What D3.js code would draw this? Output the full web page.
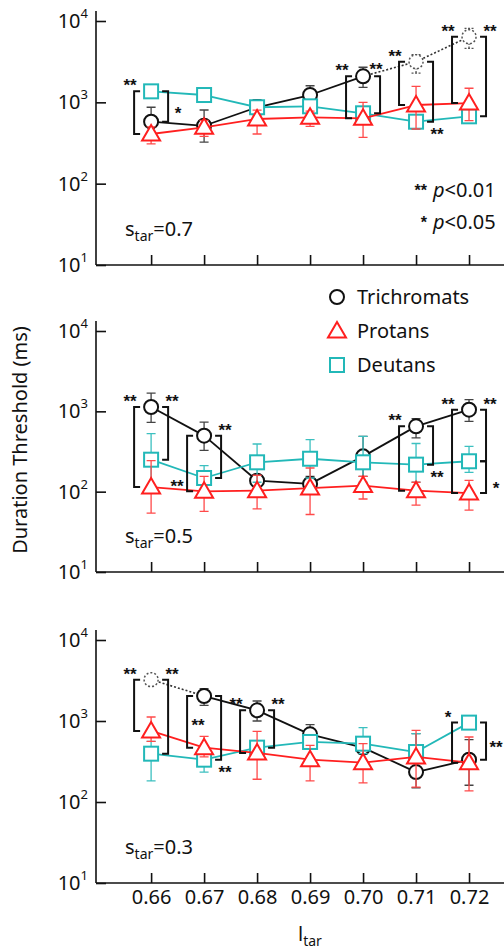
<!DOCTYPE html>
<html>
<head>
<meta charset="utf-8">
<script src="https://cdn.jsdelivr.net/npm/d3@7"></script>
<style>
  body { margin: 0; background: #fff; }
  svg text { font-family: "Noto Sans", "Liberation Sans", Arial, sans-serif; fill: #111; }
</style>
</head>
<body>
<div id="chart"></div>
<script>
// x levels (l_tar) and the three s_tar panels
const levels = [0.66, 0.67, 0.68, 0.69, 0.70, 0.71, 0.72];
const panelSizes = ["0.7", "0.5", "0.3"];
const yTickValues = [10, 100, 1000, 10000];

// duration thresholds (ms), one row per panel: s_tar = 0.7, 0.5, 0.3
const trichMean = [
  [578, 515, 870, 1230, 2090, 3160, 6410],
  [1132, 498, 137, 125, 275, 650, 1048],
  [3240, 2035, 1354, 684, 470, 234, 333]
];
const trichLow = [
  [400, 325, 700, 950, 1530, 2290, 4600],
  [730, 327, 120, 105, 155, 466, 751],
  [3240, 1560, 1000, 520, 390, 150, 161]
];
const trichHigh = [
  [870, 805, 1080, 1600, 2700, 3850, 8130],
  [1690, 736, 160, 155, 489, 810, 1397],
  [3240, 2510, 1766, 901, 560, 700, 590]
];
// points that are drawn dotted (extrapolated), by index
const trichDotted = [[5, 6], [], [0]];

const protMean = [
  [408, 493, 624, 654, 636, 927, 980],
  [114, 101, 103, 111, 119, 103, 96],
  [753, 469, 403, 333, 306, 360, 306]
];
const protLow = [
  [308, 382, 408, 507, 371, 470, 595],
  [54, 57, 61, 52, 81, 68, 59],
  [560, 360, 191, 182, 172, 153, 137]
];
const protHigh = [
  [500, 600, 800, 780, 1000, 1573, 1490],
  [243, 155, 160, 197, 155, 131, 138],
  [1120, 647, 745, 500, 525, 767, 635]
];

const deutMean = [
  [1365, 1230, 870, 893, 733, 578, 673],
  [250, 148, 232, 257, 232, 217, 239],
  [395, 333, 469, 551, 525, 414, 955]
];
const deutLow = [
  [1250, 1120, 800, 820, 640, 470, 560],
  [120, 101, 131, 148, 131, 131, 174],
  [182, 234, 400, 480, 395, 300, 900]
];
const deutHigh = [
  [1480, 1350, 950, 970, 830, 700, 800],
  [527, 211, 392, 444, 489, 398, 367],
  [560, 450, 560, 640, 828, 698, 1000]
];

// significance brackets: panel, level, side, from series, to series, label, label spot
const brackets = [
  [0, 0.66, "L", "deut", "prot", "**", "top"],
  [0, 0.66, "R", "deut", "trich", "*", "mid"],
  [0, 0.70, "L", "trich", "prot", "**", "top"],
  [0, 0.70, "R", "trich", "deut", "**", "topIn"],
  [0, 0.71, "L", "trich", "prot", "**", "top"],
  [0, 0.71, "R", "trich", "deut", "**", "bottom"],
  [0, 0.72, "L", "trich", "prot", "**", "top"],
  [0, 0.72, "R", "trich", "deut", "**", "top"],
  [1, 0.66, "L", "trich", "prot", "**", "top"],
  [1, 0.66, "R", "trich", "deut", "**", "top"],
  [1, 0.67, "L", "trich", "prot", "**", "low"],
  [1, 0.67, "R", "trich", "deut", "**", "top"],
  [1, 0.71, "L", "trich", "prot", "**", "top"],
  [1, 0.71, "R", "trich", "deut", "**", "bottom"],
  [1, 0.72, "L", "trich", "prot", "**", "top"],
  [1, 0.72, "R", "trich", "deut", "**", "top"],
  [1, 0.72, "R", "deut", "prot", "*", "low"],
  [2, 0.66, "L", "trich", "prot", "**", "top"],
  [2, 0.66, "R", "trich", "deut", "**", "top"],
  [2, 0.67, "L", "trich", "prot", "**", "inner"],
  [2, 0.67, "R", "trich", "deut", "**", "bottom"],
  [2, 0.68, "L", "trich", "prot", "**", "top"],
  [2, 0.68, "R", "trich", "deut", "**", "top"],
  [2, 0.72, "L", "deut", "prot", "*", "top"],
  [2, 0.72, "R", "deut", "trich", "**", "mid"]
];

const legendNames = ["Trichromats", "Protans", "Deutans"];
const pNotes = [["**", "0.01"], ["*", "0.05"]];

/*---------------- setup ----------------*/
const w = 504;
const h = 950;
const svg = d3.select("#chart").append("svg").attr("width", w).attr("height", h);

const x = d3.scaleLinear().domain([0.6496, 0.7266]).range([96, 504]);
const panelTop = [21, 331, 640];
const panelBottom = [265, 572, 883];
const yScales = panelTop.map((t, i) => d3.scaleLog().domain([10, 10000]).range([panelBottom[i], t]));

const series = {
  trich: { mean: trichMean, low: trichLow, high: trichHigh, color: "#111", err: "#444", shape: "circle", dotted: trichDotted },
  deut: { mean: deutMean, low: deutLow, high: deutHigh, color: "#22b8b8", err: "#3cc0c0", shape: "square", dotted: [[], [], []] },
  prot: { mean: protMean, low: protLow, high: protHigh, color: "#ff1f1f", err: "#ff4a4a", shape: "triangle", dotted: [[], [], []] }
};
const drawOrder = ["trich", "deut", "prot"];

function marker(g, shape, cx, cy, color, dotted) {
  let m;
  if (shape === "circle") {
    m = g.append("circle").attr("cx", cx).attr("cy", cy).attr("r", 7);
  } else if (shape === "square") {
    m = g.append("rect").attr("x", cx - 7).attr("y", cy - 7).attr("width", 14).attr("height", 14);
  } else {
    m = g.append("path").attr("d", `M${cx},${cy - 9}L${cx + 9},${cy + 6.5}L${cx - 9},${cy + 6.5}Z`);
  }
  m.attr("fill", "#fff").attr("stroke", color).attr("stroke-width", 2);
  if (dotted) m.attr("stroke", "#555").attr("stroke-width", 1.5).attr("stroke-dasharray", "2,2");
  return m;
}

/*---------------- panels ----------------*/
panelSizes.forEach((size, p) => {
  const y = yScales[p];
  const g = svg.append("g");

  // x axis with inward ticks
  g.append("g")
    .attr("transform", `translate(0,${panelBottom[p]})`)
    .call(d3.axisBottom(x).tickValues(levels).tickSize(-10).tickPadding(7)
      .tickFormat(p === 2 ? d3.format(".2f") : ""))
    .call(a => a.select(".domain").remove())
    .call(a => a.selectAll("line").attr("stroke", "#111").attr("stroke-width", 1.6))
    .call(a => a.selectAll("text").style("font-size", "20px")
      .style("font-family", '"Noto Sans", "Liberation Sans", sans-serif').attr("fill", "#111"));
  g.append("line")
    .attr("x1", 96).attr("x2", 504)
    .attr("y1", panelBottom[p]).attr("y2", panelBottom[p])
    .attr("stroke", "#111").attr("stroke-width", 1.6);

  // y axis (log) with inward ticks
  g.append("g")
    .attr("transform", "translate(96,0)")
    .call(d3.axisLeft(y).tickValues(yTickValues).tickSize(-10).tickFormat(""))
    .call(a => a.select(".domain").remove())
    .call(a => a.selectAll("line").attr("stroke", "#111").attr("stroke-width", 1.6));
  g.append("line")
    .attr("x1", 96).attr("x2", 96)
    .attr("y1", panelBottom[p]).attr("y2", panelTop[p] - 10)
    .attr("stroke", "#111").attr("stroke-width", 1.6);

  yTickValues.forEach(v => {
    const t = g.append("text")
      .attr("x", 88).attr("y", y(v) + 7)
      .attr("text-anchor", "end")
      .style("font-size", "20px");
    t.append("tspan").text("10");
    t.append("tspan").attr("dy", -10).style("font-size", "13px").text(Math.round(Math.log10(v)));
  });

  // s_tar label
  const s = g.append("text").attr("x", 125).attr("y", panelBottom[p] - 29).style("font-size", "20px");
  s.append("tspan").text("s");
  s.append("tspan").attr("dy", 5).style("font-size", "14px").text("tar");
  s.append("tspan").attr("dy", -5).text("=" + size);

  // series: error bars, lines, markers
  drawOrder.forEach(key => {
    const sr = series[key];
    const dots = sr.dotted[p];
    const sg = g.append("g");

    levels.forEach((lev, i) => {
      const lo = sr.low[p][i], hi = sr.high[p][i];
      if (hi <= lo) return;
      const cx = x(lev);
      const eb = sg.append("path")
        .attr("d", `M${cx},${y(lo)}V${y(hi)}M${cx - 4.5},${y(lo)}H${cx + 4.5}M${cx - 4.5},${y(hi)}H${cx + 4.5}`)
        .attr("fill", "none")
        .attr("stroke", dots.includes(i) ? "#555" : sr.err)
        .attr("stroke-width", 1.3);
      if (dots.includes(i)) eb.attr("stroke-dasharray", "2,1.5");
    });

    for (let i = 0; i < levels.length - 1; i++) {
      const dotted = dots.includes(i) || dots.includes(i + 1);
      sg.append("line")
        .attr("x1", x(levels[i])).attr("y1", y(sr.mean[p][i]))
        .attr("x2", x(levels[i + 1])).attr("y2", y(sr.mean[p][i + 1]))
        .attr("stroke", dotted ? "#333" : sr.color)
        .attr("stroke-width", dotted ? 1.6 : 1.8)
        .attr("stroke-dasharray", dotted ? "2,2" : null);
    }

    levels.forEach((lev, i) => {
      marker(sg, sr.shape, x(lev), y(sr.mean[p][i]), sr.color, dots.includes(i));
    });
  });
});

/*---------------- significance brackets ----------------*/
brackets.forEach(([p, lev, side, a, b, label, spot]) => {
  const y = yScales[p];
  const i = levels.indexOf(lev);
  const s = side === "L" ? -1 : 1;
  const bx = x(lev) + s * 17;
  const ya = y(series[a].mean[p][i]);
  const yb = y(series[b].mean[p][i]);
  const y1 = Math.min(ya, yb), y2 = Math.max(ya, yb);

  svg.append("path")
    .attr("d", `M${bx - s * 6},${y1}H${bx}V${y2}H${bx - s * 6}`)
    .attr("fill", "none")
    .attr("stroke", "#111")
    .attr("stroke-width", 2);

  let lx, ly;
  if (spot === "top") { lx = bx + s * 4; ly = y1 - 9; }
  else if (spot === "topIn") { lx = bx - s * 4; ly = y1 - 10; }
  else if (spot === "bottom") { lx = bx + s * 4; ly = y2 + 9; }
  else if (spot === "mid") { lx = bx + s * 10; ly = (y1 + y2) / 2 + 3; }
  else if (spot === "low") { lx = bx + s * 10; ly = y2 - 8; }
  else { lx = bx - s * 11; ly = (y1 + y2) / 2; }

  svg.append("text")
    .attr("x", lx).attr("y", ly + 9)
    .attr("text-anchor", "middle")
    .attr("fill", "#111")
    .style("font-size", "17px")
    .style("font-family", '"Liberation Sans", Arial, sans-serif')
    .style("font-weight", "bold")
    .text(label);
});

/*---------------- p-value note ----------------*/
pNotes.forEach(([stars, pv], k) => {
  const by = 197 + k * 32;
  svg.append("text")
    .attr("x", 427).attr("y", by - 1)
    .attr("text-anchor", "end")
    .attr("fill", "#111")
    .style("font-size", "16px")
    .style("font-family", '"Liberation Sans", Arial, sans-serif')
    .style("font-weight", "bold")
    .text(stars);
  const t = svg.append("text").attr("x", 433).attr("y", by).style("font-size", "20px");
  t.append("tspan").style("font-style", "italic").text("p");
  t.append("tspan").text("<" + pv);
});

/*---------------- legend ----------------*/
const legendKeys = ["trich", "prot", "deut"];
legendNames.forEach((name, k) => {
  const ly = 297 + k * 34;
  const sr = series[legendKeys[k]];
  marker(svg, sr.shape, 337, ly, sr.color, false);
  svg.append("text").attr("x", 357).attr("y", ly + 7).style("font-size", "20px").text(name);
});

/*---------------- axis titles ----------------*/
svg.append("text")
  .attr("transform", "translate(27,440) rotate(-90)")
  .attr("text-anchor", "middle")
  .style("font-size", "20px")
  .text("Duration Threshold (ms)");

const xl = svg.append("text").attr("x", 298).attr("y", 941).style("font-size", "20px");
xl.append("tspan").text("l");
xl.append("tspan").attr("dy", 5).style("font-size", "14px").text("tar");
</script>
</body>
</html>
